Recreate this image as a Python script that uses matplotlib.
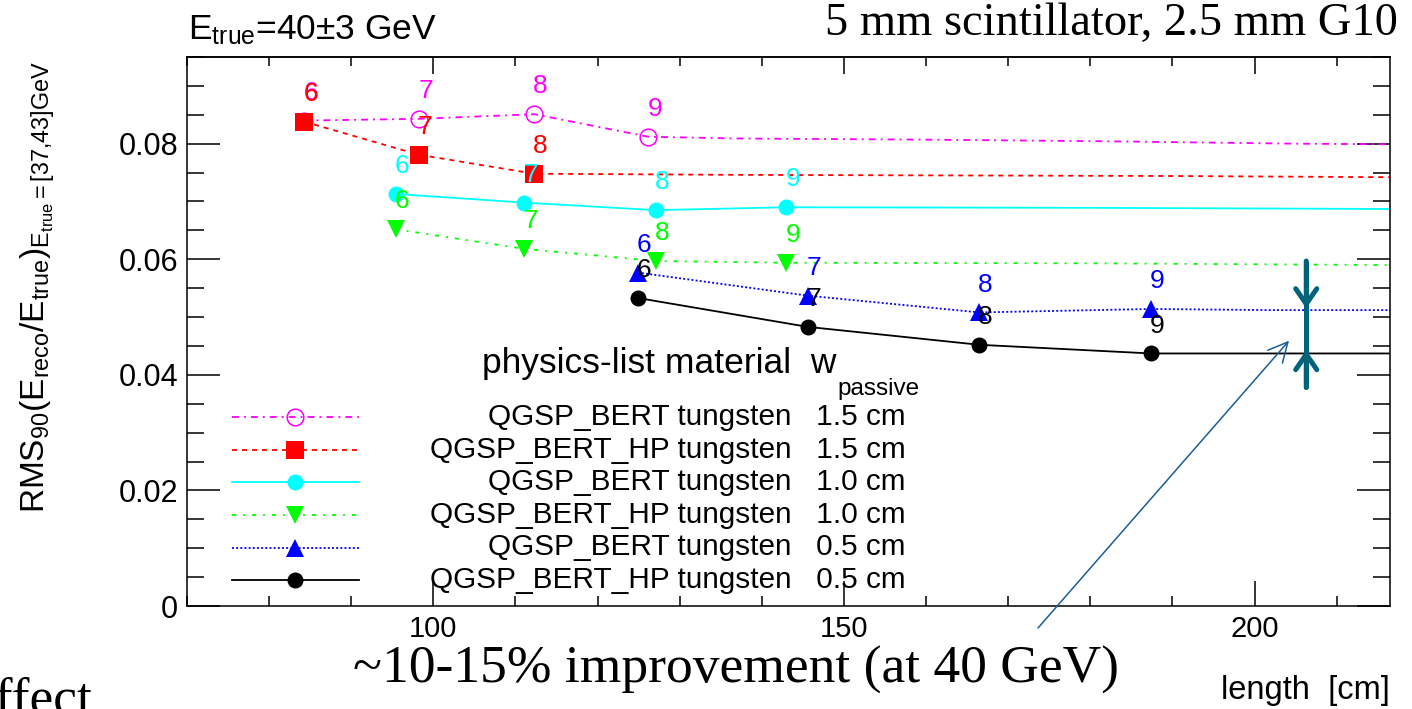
import matplotlib
matplotlib.use('Agg')
import matplotlib.pyplot as plt
from matplotlib.ticker import MultipleLocator, FixedLocator, FuncFormatter

plt.rcParams['font.family'] = ['Liberation Sans', 'DejaVu Sans']
plt.rcParams['mathtext.fontset'] = 'custom'
plt.rcParams['mathtext.rm'] = 'Liberation Sans'
plt.rcParams['mathtext.it'] = 'Liberation Sans:italic'
plt.rcParams['mathtext.bf'] = 'Liberation Sans:bold'
plt.rcParams['lines.scale_dashes'] = False

# ---------------- data ----------------
legend_labels = [
    "QGSP_BERT tungsten   1.5 cm",
    "QGSP_BERT_HP tungsten   1.5 cm",
    "QGSP_BERT tungsten   1.0 cm",
    "QGSP_BERT_HP tungsten   1.0 cm",
    "QGSP_BERT tungsten   0.5 cm",
    "QGSP_BERT_HP tungsten   0.5 cm",
]

# QGSP_BERT, 1.5 cm
bert15_x = [84.3, 98.3, 112.3, 126.2]
bert15_y = [0.0840, 0.0843, 0.0851, 0.0812]
bert15_n = [6, 7, 8, 9]
bert15_tail_x = [137.0, 160.0, 183.0, 205.0, 216.5]
bert15_tail_y = [0.0809, 0.0807, 0.0804, 0.0800, 0.0799]

# QGSP_BERT_HP, 1.5 cm
hp15_x = [84.3, 98.2, 112.3]
hp15_y = [0.0838, 0.0781, 0.0748]
hp15_n = [6, 7, 8]
hp15_tail_x = [138.0, 191.0, 216.5]
hp15_tail_y = [0.0746, 0.0744, 0.0742]

# QGSP_BERT, 1.0 cm
bert10_x = [95.4, 111.1, 127.1, 143.0]
bert10_y = [0.0713, 0.0698, 0.0685, 0.0690]
bert10_n = [6, 7, 8, 9]
bert10_tail_x = [180.0, 216.5]
bert10_tail_y = [0.0689, 0.0687]

# QGSP_BERT_HP, 1.0 cm
hp10_x = [95.4, 111.1, 127.1, 143.0]
hp10_y = [0.0652, 0.0618, 0.0597, 0.0594]
hp10_n = [6, 7, 8, 9]
hp10_tail_x = [180.0, 216.5]
hp10_tail_y = [0.0593, 0.0590]

# QGSP_BERT, 0.5 cm
bert05_x = [124.9, 145.6, 166.5, 187.4]
bert05_y = [0.0577, 0.0537, 0.0508, 0.0514]
bert05_n = [6, 7, 8, 9]
bert05_tail_x = [202.0, 216.5]
bert05_tail_y = [0.0512, 0.0512]

# QGSP_BERT_HP, 0.5 cm
hp05_x = [124.9, 145.6, 166.5, 187.4]
hp05_y = [0.0533, 0.0483, 0.0452, 0.0437]
hp05_n = [6, 7, 8, 9]
hp05_tail_x = [216.5]
hp05_tail_y = [0.0437]

x_major = [100, 150, 200]
y_major = [0.0, 0.02, 0.04, 0.06, 0.08]

# improvement bracket (x position, top, lower tip, upper tip, bottom)
bracket_x = 206.3
bracket_top, bracket_tip_down, bracket_tip_up, bracket_bottom = 0.0597, 0.0515, 0.0443, 0.0378
pointer_tip = (204.2, 0.0459)

# ---------------- styles ----------------
W, H = 1412, 709
fig = plt.figure(figsize=(W / 100, H / 100), dpi=100)
ax = fig.add_axes([187 / W, 1 - 606 / H, (1390 - 187) / W, (606 - 57) / H])

styles = [
    dict(color='#ff00ff', dashes=(5, 3.6, 1.4, 3.6), marker='o', mfc='none', ms=12, mew=1.1),
    dict(color='#ff0000', dashes=(3.6, 3.6), marker='s', mfc='#ff0000', ms=12.5, mew=0),
    dict(color='#00ffff', dashes=(), marker='o', mfc='#00ffff', ms=11.5, mew=0),
    dict(color='#00ff00', dashes=(3, 5, 1.4, 5), marker='v', mfc='#00ff00', ms=12.5, mew=0),
    dict(color='#0000ff', dashes=(1.4, 1.6), marker='^', mfc='#0000ff', ms=12.5, mew=0),
    dict(color='#000000', dashes=(), marker='o', mfc='#000000', ms=11.5, mew=0),
]

series = [
    (bert15_x, bert15_y, bert15_n, bert15_tail_x, bert15_tail_y),
    (hp15_x, hp15_y, hp15_n, hp15_tail_x, hp15_tail_y),
    (bert10_x, bert10_y, bert10_n, bert10_tail_x, bert10_tail_y),
    (hp10_x, hp10_y, hp10_n, hp10_tail_x, hp10_tail_y),
    (bert05_x, bert05_y, bert05_n, bert05_tail_x, bert05_tail_y),
    (hp05_x, hp05_y, hp05_n, hp05_tail_x, hp05_tail_y),
]

LW = 1.3
for (xs, ys, ns, tx, ty), st in zip(series, styles):
    ls = (0, st['dashes']) if st['dashes'] else '-'
    ax.plot(list(xs) + list(tx), list(ys) + list(ty), color=st['color'],
            linestyle=ls, lw=LW, zorder=2)
    ax.plot(xs, ys, linestyle='none', marker=st['marker'], ms=st['ms'],
            mfc=st['mfc'], mec=st['color'], mew=st['mew'], zorder=3)
    for x, y, n in zip(xs, ys, ns):
        ax.annotate(str(n), (x, y), xytext=(4.5, 20), textcoords='offset points',
                    ha='center', va='center', color=st['color'], fontsize=19, zorder=4)

ax.set_xlim(70, 216.5)
ax.set_ylim(0, 0.095)

# ticks
ax.xaxis.set_major_locator(FixedLocator(x_major))
ax.xaxis.set_minor_locator(MultipleLocator(10))
ax.yaxis.set_major_locator(FixedLocator(y_major))
ax.yaxis.set_minor_locator(MultipleLocator(0.005))
ax.yaxis.set_major_formatter(FuncFormatter(lambda v, p: '0' if abs(v) < 1e-9 else f'{v:.2f}'))
ax.tick_params(axis='x', which='major', direction='in', length=18, width=1.1,
               labelsize=21, pad=6.5, top=False)
ax.tick_params(axis='x', which='minor', direction='in', length=7.5, width=1.1, top=False)
ax.tick_params(axis='y', which='major', direction='in', length=24, width=1.1,
               labelsize=22, pad=6.5, right=True)
ax.tick_params(axis='y', which='minor', direction='in', length=12, width=1.1, right=True)

sec = ax.secondary_xaxis('top')
sec.xaxis.set_major_locator(FixedLocator(x_major))
sec.xaxis.set_minor_locator(MultipleLocator(10))
sec.tick_params(axis='x', which='major', direction='in', length=12.5, width=1.1, labeltop=False)
sec.tick_params(axis='x', which='minor', direction='in', length=6.5, width=1.1)
sec.spines['top'].set_linewidth(1.1)
for s in ax.spines.values():
    s.set_linewidth(1.1)

# ---------------- legend (drawn manually, ROOT style) ----------------
def axx(px):
    return (px - 187) / (1390 - 187)

def axy(py):
    return (606 - py) / (606 - 57)

leg_sym_y = [417, 450, 482, 515, 548, 580]
leg_base_y = [425, 457.6, 490.2, 522.8, 555.4, 588]
for st, sy, by, lab in zip(styles, leg_sym_y, leg_base_y, legend_labels):
    ls = (0, st['dashes']) if st['dashes'] else '-'
    ax.plot([axx(232), axx(359)], [axy(sy), axy(sy)], transform=ax.transAxes,
            color=st['color'], linestyle=ls, lw=LW, clip_on=False)
    ax.plot([axx(295)], [axy(sy)], transform=ax.transAxes, linestyle='none',
            marker=st['marker'], ms=st['ms'], mfc=st['mfc'], mec=st['color'],
            mew=st['mew'], clip_on=False)
    ax.text(axx(906), axy(by), lab, transform=ax.transAxes, ha='right', va='baseline',
            fontsize=21.4, color='black')

hdr = ax.text(axx(482), axy(373), "physics-list material  w", transform=ax.transAxes,
              ha='left', va='baseline', fontsize=25.5)
fig.canvas.draw()
bb = hdr.get_window_extent()
px_right = ax.transAxes.inverted().transform((bb.x1 + 1, 0))[0]
ax.text(px_right, axy(395), "passive", transform=ax.transAxes,
        ha='left', va='baseline', fontsize=17.5)

# ---------------- annotations ----------------
teal = '#00637a'
ax.plot([bracket_x, bracket_x], [bracket_top, bracket_bottom], color=teal, lw=3.6,
        solid_capstyle='butt', zorder=5)
for y0, y1 in [(bracket_top, bracket_tip_down), (bracket_bottom, bracket_tip_up)]:
    ax.annotate('', xy=(bracket_x, y1), xytext=(bracket_x, y0),
                arrowprops=dict(arrowstyle='->, head_length=0.55, head_width=0.38',
                                color=teal, lw=3.6, shrinkA=0, shrinkB=0,
                                mutation_scale=20), zorder=5)

ax.annotate('', xy=pointer_tip, xycoords='data',
            xytext=(1038 / W, 1 - 628 / H), textcoords='figure fraction',
            arrowprops=dict(arrowstyle='->, head_length=0.7, head_width=0.35',
                            color='#1d5c9a', lw=1.1, shrinkA=0, shrinkB=0,
                            mutation_scale=20), annotation_clip=False)

# texts
serif = ['Liberation Serif', 'DejaVu Serif']
fig.text(188 / W, 1 - 39 / H, r"E$_{\mathrm{true}}$=40±3 GeV", ha='left', va='baseline',
         fontsize=25.5)
fig.text(1398 / W, 1 - 35 / H, "5 mm scintillator, 2.5 mm G10", ha='right',
         va='baseline', fontsize=33.5, family=serif)
fig.text(353 / W, 1 - 683 / H, "~10-15% improvement (at 40 GeV)", ha='left',
         va='baseline', fontsize=38.5, family=serif)
fig.text(93 / W, 1 - 713 / H, "effect", ha='right', va='baseline', fontsize=38.5,
         family=serif)
fig.text(1390 / W, 1 - 699 / H, "length  [cm]", ha='right', va='baseline', fontsize=23.5)
fig.text(38 / W, 1 - 287 / H,
         r"RMS$_{\mathrm{90}}$(E$_{\mathrm{reco}}$/E$_{\mathrm{true}}$)$_{\mathrm{E_{true}}{=}\mathrm{[37{,}43]GeV}}$",
         rotation=90, ha='center', va='center', fontsize=24)

fig.savefig('out.png', dpi=100)
